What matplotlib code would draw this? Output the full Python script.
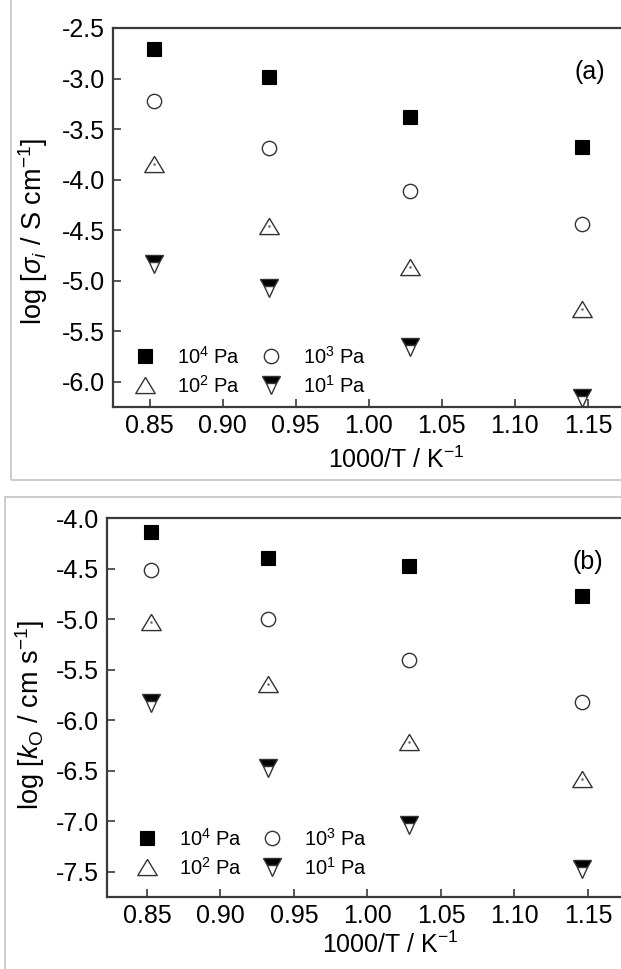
import matplotlib
matplotlib.use("Agg")
import matplotlib.pyplot as plt
from matplotlib.patches import Rectangle

plt.rcParams['font.family'] = ['Liberation Sans', 'DejaVu Sans']
plt.rcParams['mathtext.fontset'] = 'custom'
plt.rcParams['mathtext.rm'] = 'Liberation Sans'
plt.rcParams['mathtext.it'] = 'Liberation Sans:italic'
plt.rcParams['mathtext.bf'] = 'Liberation Sans:bold'

# ---- data ----
inv_T = [0.853, 0.932, 1.028, 1.146]
labels = [r'10$^4$ Pa', r'10$^3$ Pa', r'10$^2$ Pa', r'10$^1$ Pa']

sigma_1e4 = [-2.71, -2.98, -3.38, -3.68]
sigma_1e3 = [-3.22, -3.69, -4.11, -4.44]
sigma_1e2 = [-3.85, -4.46, -4.86, -5.28]
sigma_1e1 = [-4.84, -5.07, -5.66, -6.16]

k_1e4 = [-4.14, -4.39, -4.47, -4.77]
k_1e3 = [-4.51, -5.00, -5.40, -5.82]
k_1e2 = [-5.03, -5.64, -6.22, -6.58]
k_1e1 = [-5.83, -6.47, -7.04, -7.47]

W, H = 621, 969
fig = plt.figure(figsize=(W / 100, H / 100), dpi=100)

# gray panel frames
fig.add_artist(Rectangle((11 / W, 1 - 480 / H), 1.0, 480 / H + 0.05, transform=fig.transFigure,
                         fill=False, edgecolor='#c4c4c4', lw=1.2))
fig.add_artist(Rectangle((5 / W, -0.05), 1.0, 1 - 497 / H + 0.05, transform=fig.transFigure,
                         fill=False, edgecolor='#c4c4c4', lw=1.2))

spine_col = '#3a3a3a'
up_tri = [(0.0, 0.83), (-1.0, -0.83), (1.0, -0.83), (0.0, 0.83)]


def make_panel(rect, xlim, ylim, yticks, series, ylabel, tag, tag_xy,
               ylab_xy, xlab_xy, leg_xy):
    ax = fig.add_axes(rect)
    s4, s3, s2, s1 = series
    h4, = ax.plot(inv_T, s4, ls='none', marker='s', ms=9.7, mfc='black', mec='black', mew=0.8)
    h3, = ax.plot(inv_T, s3, ls='none', marker='o', ms=10.3, mfc='white', mec='#333333', mew=1.0)
    h2, = ax.plot(inv_T, s2, ls='none', marker=up_tri, ms=14, mfc='white', mec='#333333', mew=1.0)
    ax.plot(inv_T, s2, ls='none', marker='.', ms=1.6, color='#666666')
    h1, = ax.plot(inv_T, s1, ls='none', marker='v', ms=12.5, fillstyle='top', mfc='black',
                  mfcalt='white', mec='#333333', mew=1.0)
    ax.set_xlim(*xlim)
    ax.set_ylim(*ylim)
    ax.set_xticks([0.85, 0.90, 0.95, 1.00, 1.05, 1.10, 1.15])
    ax.set_xticklabels(['0.85', '0.90', '0.95', '1.00', '1.05', '1.10', '1.15'])
    ax.set_yticks(yticks)
    ax.set_yticklabels(['%.1f' % v for v in yticks])
    ax.tick_params(direction='in', length=6, width=1.2, color=spine_col, labelsize=18,
                   top=False, right=False)
    ax.tick_params(axis='x', pad=5)
    ax.tick_params(axis='y', pad=5.5)
    for sp in ax.spines.values():
        sp.set_color(spine_col)
        sp.set_linewidth(1.6)
    ax.set_ylabel(ylabel, fontsize=19.5, va='center')
    ax.yaxis.set_label_coords(*ylab_xy)
    ax.set_xlabel(r'1000/T / K$^{-1}$', fontsize=18, va='center')
    ax.xaxis.set_label_coords(*xlab_xy)
    ax.text(tag_xy[0], tag_xy[1], tag, transform=ax.transAxes, fontsize=18,
            ha='center', va='center')
    ax.legend([h4, h2, h3, h1], [labels[0], labels[2], labels[1], labels[3]], ncol=2,
              loc='lower left', bbox_to_anchor=leg_xy, frameon=False, fontsize=14.5,
              handletextpad=1.1, columnspacing=1.0, labelspacing=0.35,
              borderaxespad=0.0, borderpad=0.0, handlelength=1.0)
    return ax


# panel a
make_panel([113 / W, 1 - 407 / H, (624.5 - 113) / W, (407 - 28) / H],
           (0.825, 1.175), (-6.25, -2.5), [-2.5, -3.0, -3.5, -4.0, -4.5, -5.0, -5.5, -6.0],
           (sigma_1e4, sigma_1e3, sigma_1e2, sigma_1e1),
           r'log [$\sigma_i$ / S cm$^{-1}$]', '(a)', (0.933, 0.884),
           (-0.157, 0.464), (0.553, -0.14), (0.043, 0.028))

# panel b
make_panel([107 / W, 1 - 897 / H, (624.75 - 107) / W, (897 - 518.3) / H],
           (0.8228, 1.175), (-7.75, -4.0), [-4.0, -4.5, -5.0, -5.5, -6.0, -6.5, -7.0, -7.5],
           (k_1e4, k_1e3, k_1e2, k_1e1),
           r'log [$k_\mathrm{O}$ / cm s$^{-1}$]', '(b)', (0.929, 0.885),
           (-0.149, 0.48), (0.547, -0.127), (0.057, 0.049))

fig.savefig('out.png', dpi=100)
